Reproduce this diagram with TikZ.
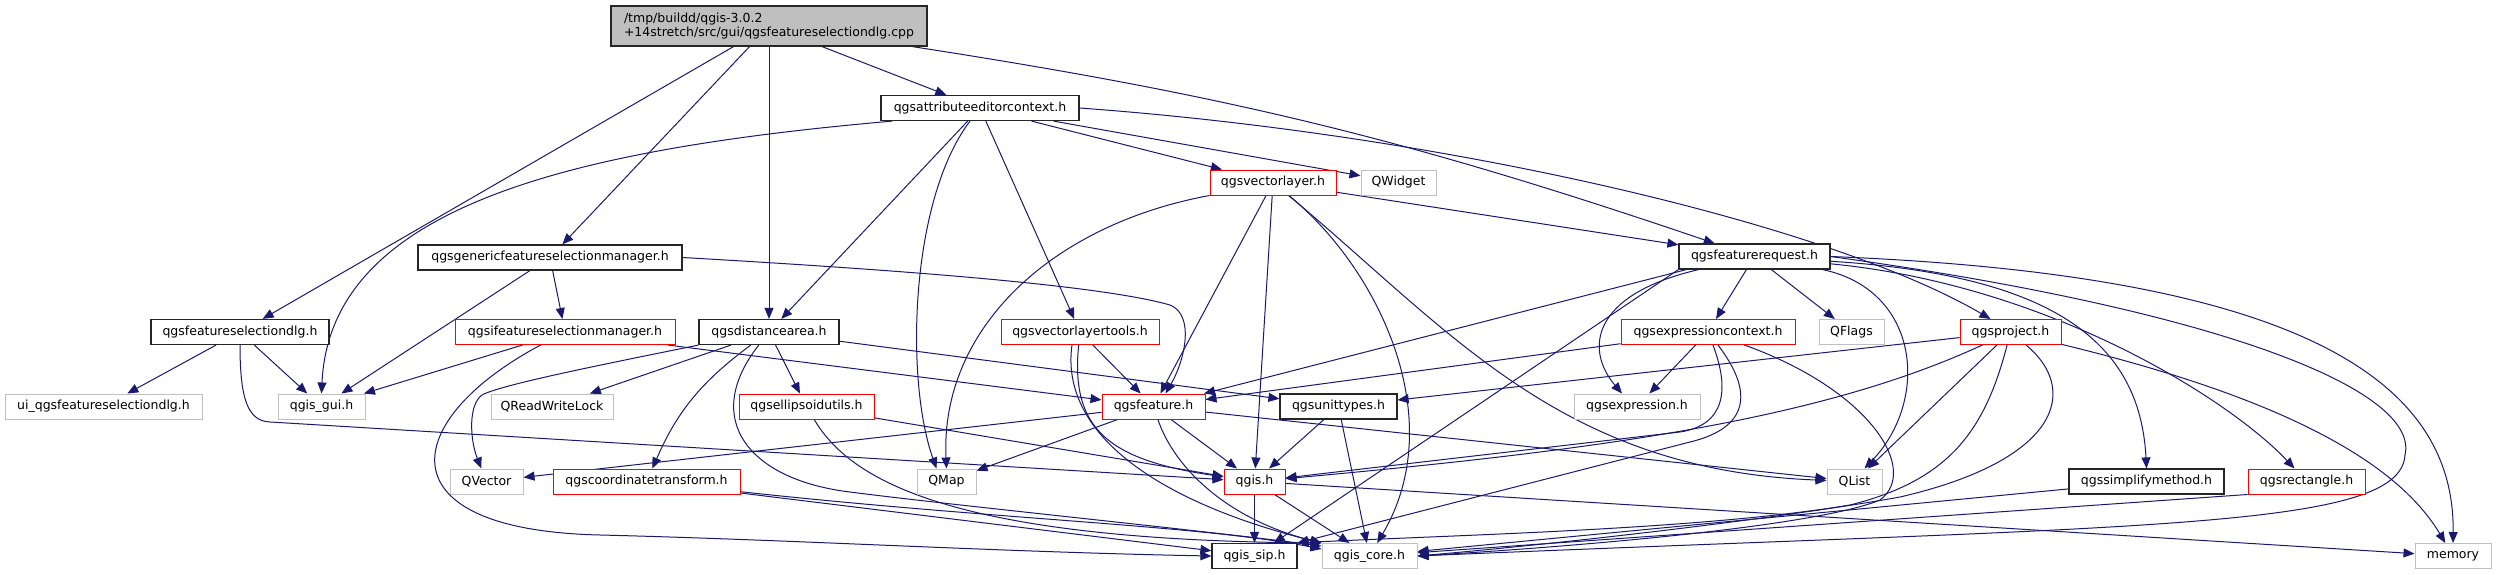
\documentclass[tikz,border=0pt]{standalone}
\usepackage{fontspec}
\setmainfont{DejaVu Sans}
\usepackage{xcolor}
\usepackage{tikz}
\usetikzlibrary{arrows.meta, backgrounds}
\definecolor{edgeblue}{HTML}{191970}
\definecolor{boxgray}{HTML}{C0C0C0}
\definecolor{srcfill}{HTML}{BFBFBF}
\definecolor{boxred}{HTML}{FF0000}
\tikzset{
  box/.style   ={rectangle, inner sep=0pt, minimum height=25pt, fill=white,
                 line width=1pt, font=\fontsize{12.5}{13.5}\selectfont},
  src/.style   ={box, draw=black!85, fill=srcfill, minimum height=40pt, align=left, line width=1.2pt},
  doc/.style   ={box, draw=black!85, line width=1.2pt},
  trunc/.style ={box, draw=boxred},
  ext/.style   ={box, draw=boxgray},
  dep/.style   ={-{Triangle[length=11pt, width=9pt]}, line width=1pt, draw=edgeblue},
}

\begin{document}
\begin{tikzpicture}[x=1pt, y=1pt]

  \useasboundingbox (0,0) rectangle (2497,-575);

  % ── Top: the .cpp file ─────────────────────────────────────────────
  \node[src, minimum width=316pt] (root) at (769,-26)
        {/tmp/buildd/qgis-3.0.2\\+14stretch/src/gui/qgsfeatureselectiondlg.cpp};

  % ── Rows 2-4 ───────────────────────────────────────────────────────
  \node[doc,   minimum width=198pt] (aec)  at (980,-108)    {qgsattributeeditorcontext.h};
  \node[trunc, minimum width=126pt] (vl)   at (1273,-182.5) {qgsvectorlayer.h};
  \node[ext,   minimum width=75pt]  (qwid) at (1398.5,-182.5) {QWidget};
  \node[doc,   minimum width=264pt] (gfsm) at (550,-257.5)  {qgsgenericfeatureselectionmanager.h};
  \node[doc,   minimum width=151pt] (fr)   at (1754.5,-256.5) {qgsfeaturerequest.h};

  % ── Row 5 ──────────────────────────────────────────────────────────
  \node[doc,   minimum width=178pt] (fsd)    at (240,-332)    {qgsfeatureselectiondlg.h};
  \node[trunc, minimum width=220pt] (ifsm)   at (565,-332)    {qgsifeatureselectionmanager.h};
  \node[doc,   minimum width=140pt] (da)     at (769,-332)    {qgsdistancearea.h};
  \node[trunc, minimum width=158pt] (vlt)    at (1080,-332)   {qgsvectorlayertools.h};
  \node[trunc, minimum width=174pt] (ec)     at (1708,-332)   {qgsexpressioncontext.h};
  \node[ext,   minimum width=65pt]  (qflags) at (1851.5,-332) {QFlags};
  \node[trunc, minimum width=101pt] (proj)   at (2010.5,-332) {qgsproject.h};

  % ── Row 6 ──────────────────────────────────────────────────────────
  \node[ext,   minimum width=197pt] (ui)    at (103.5,-406.5)  {ui\_qgsfeatureselectiondlg.h};
  \node[ext,   minimum width=87pt]  (gui)   at (321.5,-406.5)  {qgis\_gui.h};
  \node[ext,   minimum width=122pt] (qrwl)  at (552,-406.5)    {QReadWriteLock};
  \node[trunc, minimum width=135pt] (ellip) at (806.5,-406.5)  {qgsellipsoidutils.h};
  \node[trunc, minimum width=103pt] (feat)  at (1153.5,-406.5) {qgsfeature.h};
  \node[doc,   minimum width=117pt] (unit)  at (1338.5,-406.5) {qgsunittypes.h};
  \node[ext,   minimum width=126pt] (expr)  at (1637,-406.5)   {qgsexpression.h};

  % ── Row 7 ──────────────────────────────────────────────────────────
  \node[ext,   minimum width=73pt]  (qvec)  at (486.5,-481.5)  {QVector};
  \node[trunc, minimum width=187pt] (ct)    at (646.5,-481.5)  {qgscoordinatetransform.h};
  \node[ext,   minimum width=59pt]  (qmap)  at (946.5,-481.5)  {QMap};
  \node[trunc, minimum width=61pt]  (qgish) at (1254.5,-481.5) {qgis.h};
  \node[ext,   minimum width=55pt]  (qlist) at (1854.5,-481.5) {QList};
  \node[doc,   minimum width=155pt] (sm)    at (2146.5,-481.5) {qgssimplifymethod.h};
  \node[trunc, minimum width=117pt] (rect)  at (2306.5,-481.5) {qgsrectangle.h};

  % ── Bottom row ─────────────────────────────────────────────────────
  \node[doc, minimum width=85pt] (sip)  at (1254.5,-556) {qgis\_sip.h};
  \node[ext, minimum width=95pt] (core) at (1369.5,-556) {qgis\_core.h};
  \node[ext, minimum width=76pt] (mem)  at (2453,-556)   {memory};

  \begin{scope}[on background layer]
  % ── From the .cpp ──────────────────────────────────────────────────
  \draw[dep] (root)--(fsd); \draw[dep] (root)--(gfsm); \draw[dep] (root.south)--(da.north);
  \draw[dep] (root)--(aec); \draw[dep] (root) to[bend left=5] (fr);

  % ── qgsattributeeditorcontext.h ────────────────────────────────────
  \draw[dep] ([xshift=12pt]aec.south west) .. controls (560,-150) and (330,-210) .. (gui.north);
  \draw[dep] (aec)--(da); \draw[dep] (aec)--(vlt); \draw[dep] (aec)--(vl); \draw[dep] (aec)--(qwid);
  \draw[dep] ([xshift=-10pt]aec.south) .. controls (910,-200) and (905,-380) .. ([xshift=-10pt]qmap.north);
  \draw[dep] (aec.east) .. controls (1450,-135) and (1830,-225) .. ([xshift=-20pt]proj.north);

  % ── GUI side ───────────────────────────────────────────────────────
  \draw[dep] (gfsm)--(gui); \draw[dep] (gfsm)--(ifsm);
  \draw[dep] (gfsm.east) .. controls (900,-270) and (1100,-285) .. (1170,-305)
             .. controls (1195,-315) and (1185,-360) .. ([xshift=12pt]feat.north);
  \draw[dep] (fsd)--(ui); \draw[dep] (fsd)--(gui);
  \draw[dep] (fsd.south) .. controls (240,-400) and (248,-421) .. (270,-422) -- (qgish);
  \draw[dep] (ifsm)--(gui); \draw[dep] (ifsm)--(feat);
  \draw[dep] (ifsm) .. controls (400,-420) and (380,-530) .. (600,-535)
             .. controls (800,-540) and (1000,-552) .. (sip.west);

  % ── qgsdistancearea.h and below ────────────────────────────────────
  \draw[dep] (da.south west) .. controls (600,-365) and (500,-385) .. (482,-395)
             .. controls (468,-405) and (470,-440) .. (qvec);
  \draw[dep] (da)--(qrwl); \draw[dep] (da)--(ellip); \draw[dep] (da)--(unit);
  \draw[dep] (da) to[bend right=15] (ct);
  \draw[dep] (da) .. controls (700,-420) and (750,-480) .. (850,-492)
             .. controls (950,-505) and (1200,-530) .. ([yshift=-3pt]core.north west);
  \draw[dep] (ellip)--(qgish);
  \draw[dep] (ellip) .. controls (850,-480) and (950,-540) .. (core.north west);
  \draw[dep] (ct)--(sip);
  \draw[dep] (ct) .. controls (1000,-520) and (1200,-525) .. ([yshift=-6pt]core.north west);

  % ── qgsvectorlayer.h ───────────────────────────────────────────────
  \draw[dep] (vl)--(fr); \draw[dep] (vl)--(feat); \draw[dep] (vl)--(qgish);
  \draw[dep] (vl.south west) .. controls (1050,-225) and (940,-330) .. (qmap.north);
  \draw[dep] (vl) .. controls (1380,-270) and (1450,-420) .. (core);
  \draw[dep] (vl) .. controls (1450,-330) and (1560,-470) .. (qlist);
  \draw[dep] (vlt)--(feat);
  \draw[dep] (vlt) .. controls (1070,-430) and (1110,-460) .. (qgish);
  \draw[dep] ([xshift=-8pt]vlt.south) .. controls (1060,-430) and (1150,-500) .. (core.north west);

  % ── qgsfeature.h, qgis.h, qgsunittypes.h ───────────────────────────
  \draw[dep] (feat)--(qvec); \draw[dep] (feat)--(qmap);
  \draw[dep] (feat)--(qgish); \draw[dep] (feat)--(qlist);
  \draw[dep] (feat) .. controls (1175,-470) and (1230,-520) .. (core.north west);
  \draw[dep] (qgish)--(sip); \draw[dep] (qgish)--(core); \draw[dep] (qgish)--(mem);
  \draw[dep] (unit)--(qgish); \draw[dep] (unit)--(core);

  % ── qgsfeaturerequest.h ────────────────────────────────────────────
  \draw[dep] ([xshift=8pt]fr.south west)--(feat); \draw[dep] (fr.south west)--(sip);
  \draw[dep] (fr) .. controls (1590,-295) and (1585,-350) .. ([xshift=-15pt]expr.north);
  \draw[dep] (fr)--(ec); \draw[dep] (fr)--(qflags);
  \draw[dep] ([xshift=-8pt]fr.south east) .. controls (1920,-290) and (1930,-400) .. ([xshift=10pt]qlist.north);
  \draw[dep] (fr) .. controls (2050,-275) and (2140,-340) .. (sm.north);
  \draw[dep] (fr) .. controls (2050,-285) and (2230,-400) .. ([xshift=-12pt]rect.north);
  \draw[dep] (fr.east) .. controls (2300,-275) and (2455,-380) .. (mem.north);
  \draw[dep] (fr.east) .. controls (2220,-310) and (2420,-390) .. (2405,-455)
             .. controls (2400,-530) and (2150,-525) .. (core.east);

  % ── qgsexpressioncontext.h ─────────────────────────────────────────
  \draw[dep] (ec)--(feat); \draw[dep] (ec)--(expr);
  \draw[dep] (ec) .. controls (1730,-390) and (1725,-425) .. (1680,-432) -- (qgish);
  \draw[dep] (ec) .. controls (1760,-400) and (1740,-430) .. (1690,-442) -- (sip.north east);
  \draw[dep] (ec) .. controls (1870,-390) and (1920,-470) .. (1880,-500)
             .. controls (1820,-525) and (1600,-545) .. (core.east);

  % ── qgsproject.h ───────────────────────────────────────────────────
  \draw[dep] (proj)--(unit); \draw[dep] (proj)--(qlist);
  \draw[dep] (proj) .. controls (1820,-420) and (1600,-450) .. (qgish);
  \draw[dep] (proj) .. controls (1985,-430) and (1950,-480) .. (1850,-505)
             .. controls (1700,-530) and (1450,-535) .. (sip.north east);
  \draw[dep] (proj) .. controls (2080,-390) and (2060,-460) .. (1900,-497)
             .. controls (1800,-515) and (1600,-540) .. (core.east);
  \draw[dep] (proj) .. controls (2250,-390) and (2390,-450) .. (mem);

  % ── Leaves into qgis_core.h ────────────────────────────────────────
  \draw[dep] (sm)--(core); \draw[dep] (rect.south west)--(core);
  \end{scope}

\end{tikzpicture}
\end{document}
